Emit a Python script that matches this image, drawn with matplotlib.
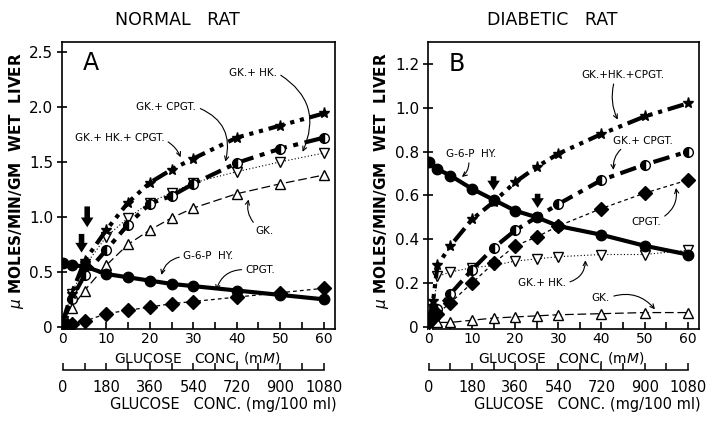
import matplotlib
matplotlib.use('Agg')
import matplotlib.pyplot as plt
import numpy as np

plt.rcParams['font.family'] = ['DejaVu Sans']

# ---- panel A : normal rat ----
xa = [0, 2, 5, 10, 15, 20, 25, 30, 40, 50, 60]
a_g6p = [0.58, 0.56, 0.55, 0.48, 0.45, 0.42, 0.39, 0.37, 0.33, 0.29, 0.25]
a_gk = [0.02, 0.17, 0.33, 0.56, 0.75, 0.88, 0.99, 1.08, 1.21, 1.30, 1.38]
a_gkhk = [0.05, 0.30, 0.55, 0.82, 0.99, 1.13, 1.22, 1.31, 1.41, 1.50, 1.58]
a_gkcp = [0.05, 0.25, 0.47, 0.70, 0.93, 1.12, 1.19, 1.30, 1.49, 1.62, 1.72]
a_all = [0.05, 0.30, 0.60, 0.88, 1.13, 1.31, 1.43, 1.53, 1.72, 1.83, 1.94]
xa_cp = [0, 1, 2, 5, 10, 15, 20, 25, 30, 40, 50, 60]
a_cpgt = [0.0, 0.02, 0.03, 0.05, 0.12, 0.15, 0.18, 0.21, 0.23, 0.27, 0.31, 0.35]

# ---- panel B : diabetic rat ----
xb = [0, 2, 5, 10, 15, 20, 25, 30, 40, 50, 60]
b_g6p = [0.75, 0.72, 0.69, 0.63, 0.58, 0.53, 0.50, 0.46, 0.42, 0.37, 0.33]
b_gk = [0.0, 0.02, 0.02, 0.03, 0.04, 0.045, 0.05, 0.055, 0.06, 0.065, 0.065]
xb2 = [0, 1, 2, 5, 10, 15, 20, 25, 30, 40, 50, 60]
b_gkhk = [0.03, 0.08, 0.23, 0.25, 0.27, 0.28, 0.30, 0.31, 0.32, 0.33, 0.33, 0.35]
b_gkcp = [0.03, 0.06, 0.08, 0.15, 0.26, 0.36, 0.44, 0.50, 0.56, 0.67, 0.74, 0.80]
b_all = [0.03, 0.12, 0.28, 0.37, 0.49, 0.57, 0.66, 0.73, 0.79, 0.88, 0.96, 1.02]
b_cpgt = [0.02, 0.04, 0.06, 0.11, 0.20, 0.29, 0.37, 0.41, 0.46, 0.54, 0.61, 0.67]

mm_ticks = [0, 10, 20, 30, 40, 50, 60]
mg_ticks = [0, 180, 360, 540, 720, 900, 1080]

fig = plt.figure(figsize=(7.14, 4.26), dpi=100)
posA = [0.0868, 0.2277, 0.3824, 0.6737]
posB = [0.5994, 0.2277, 0.3796, 0.6737]
axA = fig.add_axes(posA)
axB = fig.add_axes(posB)

def draw(ax, x, g6p, gk, x2, gkhk, gkcp, allc, cpgt):
    k = 'black'
    # G-6-P HY
    ax.plot(x, g6p, '-', color=k, lw=3.0, marker='o', ms=7.5, zorder=5)
    # GK
    ax.plot(x, gk, color=k, lw=0.9, dashes=(7, 3),
            marker='^', ms=7, mfc='white', mec=k, mew=1.0, zorder=4)
    # GK + HK
    ax.plot(x2[0], gkhk, color=k, lw=0.8, dashes=(1, 2),
            marker='v', ms=7, mfc='white', mec=k, mew=1.0, zorder=4)
    # GK + CPGT
    ax.plot(x2[1], gkcp, color=k, lw=3.0, dashes=(4, 1.6, 1.2, 1.6),
            marker='o', ms=7, fillstyle='left', mfc=k, mfcalt='white',
            mec=k, mew=1.0, zorder=4)
    # GK + HK + CPGT
    ax.plot(x2[2], allc, color=k, lw=3.0, dashes=(4, 1.4, 1, 1.4, 1, 1.4),
            marker='*', ms=8, zorder=4)
    # CPGT
    ax.plot(x2[3], cpgt, color=k, lw=0.9, dashes=(3, 2.5),
            marker='D', ms=7, zorder=4)

def style(ax, ylim, yticks, ylabels):
    ax.set_xlim(-0.2, 62.6)
    ax.set_ylim(*ylim)
    ax.set_xticks(mm_ticks)
    ax.set_xticks(np.arange(0, 61, 5), minor=True)
    ax.set_yticks(yticks)
    ax.set_yticklabels(ylabels)
    ax.tick_params(axis='x', which='both', direction='in', length=5, width=1.2,
                   labelsize=10, pad=2.5, top=False)
    ax.tick_params(axis='y', which='both', direction='inout', length=7, width=1.2,
                   labelsize=11, pad=3, right=False)
    for s in ax.spines.values():
        s.set_linewidth(1.2)

def mg_axis(ax_pos):
    sec = fig.add_axes([ax_pos[0], 0.1315, ax_pos[2], 0.0001])
    sec.patch.set_visible(False)
    sec.set_xlim(-0.2 * 18, 62.6 * 18)
    for side in ['left', 'right', 'top']:
        sec.spines[side].set_visible(False)
    sec.spines['bottom'].set_bounds(0, 1080)
    sec.spines['bottom'].set_linewidth(1.1)
    sec.set_yticks([])
    sec.set_xticks(mg_ticks)
    sec.set_xticks(np.arange(0, 1081, 90), minor=True)
    sec.tick_params(axis='x', which='both', direction='in', length=5, width=1.1,
                    labelsize=10.5, pad=7)
    return sec

draw(axA, xa, a_g6p, a_gk, [xa, xa, xa, xa_cp], a_gkhk, a_gkcp, a_all, a_cpgt)
draw(axB, xb, b_g6p, b_gk, [xb2, xb2, xb2, xb2], b_gkhk, b_gkcp, b_all, b_cpgt)

style(axA, (-0.02, 2.59), [0, 0.5, 1.0, 1.5, 2.0, 2.5],
      ['0', '0.5', '1.0', '1.5', '2.0', '2.5'])
style(axB, (-0.01, 1.30), [0, 0.2, 0.4, 0.6, 0.8, 1.0, 1.2],
      ['0', '0.2', '0.4', '0.6', '0.8', '1.0', '1.2'])

mg_axis(posA)
mg_axis(posB)

# panel letters
axA.text(6.5, 2.40, 'A', fontsize=17, ha='center', va='center')
axB.text(6.4, 1.20, 'B', fontsize=17, ha='center', va='center')

# thick arrows marking crossovers
big = dict(arrowstyle='simple,head_width=0.9,head_length=0.7,tail_width=0.4',
           color='black', lw=0)
axA.annotate('', xy=(5.6, 0.88), xytext=(5.6, 1.12), arrowprops=big)
axA.annotate('', xy=(4.3, 0.65), xytext=(4.3, 0.87), arrowprops=big)
axB.annotate('', xy=(15, 0.61), xytext=(15, 0.70), arrowprops=big)
axB.annotate('', xy=(25.2, 0.53), xytext=(25.2, 0.62), arrowprops=big)

# curve labels
fs = 7.5
thin = dict(arrowstyle='->', color='black', lw=0.8)

def lab(ax, s, xt, xy, rel, rad):
    p = dict(thin, connectionstyle='arc3,rad=%s' % rad, relpos=rel,
             shrinkA=1, shrinkB=1)
    ax.annotate(s, xy=xy, xytext=xt, fontsize=fs, ha='center', va='center',
                arrowprops=p)

lab(axA, 'GK.+ HK.', (43.7, 2.31), (55.0, 1.58), (1.0, 0.5), -0.45)
lab(axA, 'GK.+ CPGT.', (23.8, 2.00), (37.3, 1.49), (1.0, 0.5), -0.45)
lab(axA, 'GK.+ HK.+ CPGT.', (13.0, 1.72), (27.2, 1.53), (1.0, 0.3), -0.2)
lab(axA, 'GK.', (46.3, 0.87), (42.8, 1.17), (0.1, 1.0), -0.3)
lab(axA, 'G-6-P  HY.', (33.5, 0.64), (22.6, 0.46), (0.0, 0.5), 0.35)
lab(axA, 'CPGT.', (45.5, 0.52), (35.2, 0.32), (0.0, 0.5), 0.4)

lab(axB, 'GK.+HK.+CPGT.', (45.0, 1.15), (43.9, 0.94), (0.4, 0.0), 0.2)
lab(axB, 'GK.+ CPGT.', (49.7, 0.85), (42.8, 0.71), (0.2, 0.0), 0.3)
lab(axB, 'G-6-P  HY.', (9.8, 0.79), (7.4, 0.68), (0.45, 0.0), -0.3)
lab(axB, 'CPGT.', (50.3, 0.48), (57.2, 0.64), (1.0, 0.8), 0.35)
lab(axB, 'GK.+ HK.', (26.2, 0.20), (36.3, 0.31), (1.0, 0.5), 0.4)
lab(axB, 'GK.', (39.8, 0.13), (52.6, 0.075), (1.0, 0.6), -0.35)

# titles and axis labels
fig.text(0.248, 0.953, 'NORMAL   RAT', fontsize=12.5, ha='center', va='center')
fig.text(0.773, 0.953, 'DIABETIC   RAT', fontsize=12.5, ha='center', va='center')
ylab = r'$\mu$ MOLES/MIN/GM  WET  LIVER'
fig.text(0.023, 0.575, ylab, fontsize=11, rotation=90, ha='center', va='center',
         fontweight='bold')
fig.text(0.535, 0.575, ylab, fontsize=11, rotation=90, ha='center', va='center',
         fontweight='bold')
for xc in [197 / 714, 561 / 714]:
    fig.text(xc, 1 - 357.5 / 426, r'GLUCOSE   CONC. (m$\mathit{M}$)', fontsize=10,
             ha='center', va='center')
for xc in [223 / 714, 587 / 714]:
    fig.text(xc, 1 - 405 / 426, 'GLUCOSE   CONC. (mg/100 ml)', fontsize=10.5,
             ha='center', va='center')

fig.savefig('out.png', dpi=100, facecolor='white')
